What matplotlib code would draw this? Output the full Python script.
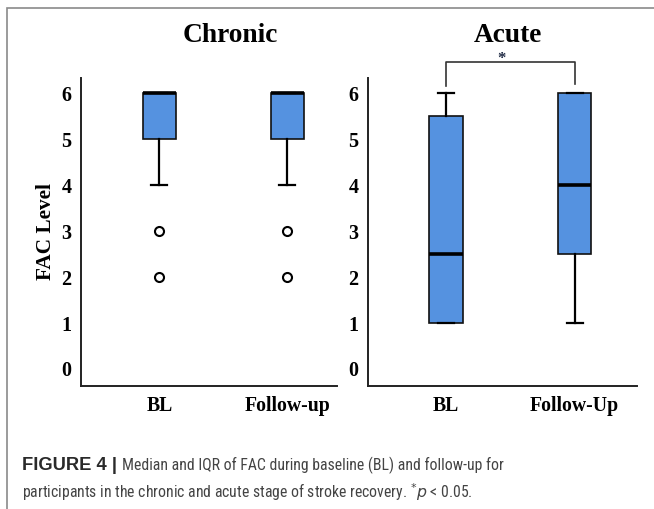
import matplotlib
matplotlib.use("Agg")
import matplotlib.pyplot as plt
from matplotlib.patches import Rectangle
from matplotlib import font_manager
from matplotlib.font_manager import FontProperties

# ---- data ----
groups = ["Chronic", "Acute"]
tick_labels = [["BL", "Follow-up"], ["BL", "Follow-Up"]]
q1 = [[5, 5], [1, 2.5]]
med = [[6, 6], [2.5, 4]]
q3 = [[6, 6], [5.5, 6]]
whislo = [[4, 4], [1, 1]]
whishi = [[6, 6], [6, 6]]
fliers = [[[3, 2], [3, 2]], [[], []]]
yticks = [0, 1, 2, 3, 4, 5, 6]

W, H = 654, 509
fig = plt.figure(figsize=(W / 100, H / 100), dpi=100)

serif = "Liberation Serif"
box_color = "#5592e0"

axes_px = [(81, 337, 0.387, 2.387), (368, 637, 0.393, 2.486)]
top_px, bot_px = 78, 386

for gi, (x0, x1, xa, xb) in enumerate(axes_px):
    ax = fig.add_axes([x0 / W, 1 - bot_px / H, (x1 - x0) / W, (bot_px - top_px) / H])
    stats = []
    for k in range(2):
        stats.append(dict(q1=q1[gi][k], med=med[gi][k], q3=q3[gi][k],
                          whislo=whislo[gi][k], whishi=whishi[gi][k],
                          fliers=fliers[gi][k], label=tick_labels[gi][k]))
    ax.bxp(stats, positions=[1, 2], widths=0.26, capwidths=0.125,
           patch_artist=True, showfliers=True,
           boxprops=dict(facecolor=box_color, edgecolor="#111111", linewidth=1.2),
           medianprops=dict(color="black", linewidth=2.6),
           whiskerprops=dict(color="black", linewidth=1.6),
           capprops=dict(color="black", linewidth=1.6),
           flierprops=dict(marker="o", markerfacecolor="white", markeredgecolor="black",
                           markersize=6.5, markeredgewidth=1.5))
    ax.set_xlim(xa, xb)
    ax.set_ylim(-0.37, 6.33)
    ax.set_yticks(yticks)
    ax.set_yticklabels([str(t) for t in yticks], fontfamily=serif, fontweight="bold", fontsize=14.5)
    ax.set_xticks([1, 2])
    ax.set_xticklabels(tick_labels[gi], fontfamily=serif, fontweight="bold", fontsize=14.2)
    ax.tick_params(axis="both", length=0)
    ax.tick_params(axis="y", pad=7)
    ax.tick_params(axis="x", pad=7)
    for s in ["top", "right"]:
        ax.spines[s].set_visible(False)
    for s in ["left", "bottom"]:
        ax.spines[s].set_linewidth(1.4)
        ax.spines[s].set_color("#222222")
    ax.set_facecolor("none")
    if gi == 0:
        ax.set_ylabel("FAC Level", fontfamily=serif, fontweight="bold", fontsize=15.3, labelpad=4)
    else:
        ytop = 6 + (93 - 62) / 46
        ax.plot([1, 1, 2, 2], [6 + (93 - 86) / 46, ytop, ytop, 6 + (93 - 84) / 46],
                color="#333333", linewidth=1.2, clip_on=False)
        ax.text(1.43, 6 + (93 - 63) / 46, "*", ha="center", va="baseline",
                fontfamily=serif, fontweight="bold", fontsize=12, color="#1f2a44")

# titles
fig.text(230 / W, 1 - 35 / H, groups[0], ha="center", va="center",
         fontfamily=serif, fontweight="bold", fontsize=19.7)
fig.text(508 / W, 1 - 35 / H, groups[1], ha="center", va="center",
         fontfamily=serif, fontweight="bold", fontsize=19.7)

# frame
fig.patches.append(Rectangle((7 / W, -0.1), 1.2, 1 - 8 / H + 0.1, transform=fig.transFigure,
                             fill=False, edgecolor="#8a8a8a", linewidth=1.2))


# ---- caption font: look for an installed narrow / condensed sans face ----
def pick_condensed():
    prefs = ["Liberation Sans Narrow", "Roboto Condensed", "Noto Sans", "DejaVu Sans",
             "Open Sans", "Lato", "Inter", "Roboto", "Liberation Sans"]
    cands = []
    for f in font_manager.fontManager.ttflist:
        name = f.name
        narrow = ("Narrow" in name or "Condensed" in name or "Cond" in name
                  or str(f.stretch) in ("condensed", "semi-condensed", "extra-condensed", "ultra-condensed")
                  or (isinstance(f.stretch, int) and f.stretch < 500)
                  or "Condensed" in f.fname or "Narrow" in f.fname)
        if not narrow or f.style != "normal":
            continue
        w = f.weight if isinstance(f.weight, int) else {"normal": 400, "regular": 400, "book": 400}.get(str(f.weight), 700)
        if w != 400:
            continue
        if "Mono" in name or "Serif" in name or "CJK" in name:
            continue
        rank = len(prefs)
        for i, p in enumerate(prefs):
            if name.startswith(p):
                rank = i
                break
        cands.append((rank, f.fname))
    if cands:
        cands.sort()
        return FontProperties(fname=cands[0][1])
    return FontProperties(family="Roboto")


cap_fp = pick_condensed()

line1_bold = "FIGURE 4 |"
line1 = "Median and IQR of FAC during baseline (BL) and follow-up for"
line2 = "participants in the chronic and acute stage of stroke recovery. $^{*}\\mathit{p}$ < 0.05."


def fit(text_obj, x_left, x_right, extra=1.0):
    fig.canvas.draw()
    bb = text_obj.get_window_extent()
    text_obj.set_fontsize(text_obj.get_fontsize() * extra * (x_right - x_left) / bb.width)


tb = fig.text(22 / W, 1 - 470 / H, line1_bold, ha="left", va="baseline",
              fontfamily="Liberation Sans", fontweight="bold", fontsize=12.5, color="#2a2a2a")
fit(tb, 22, 117)
fp1 = cap_fp.copy()
fp1.set_size(12)
t1 = fig.text(122 / W, 1 - 470 / H, line1, ha="left", va="baseline",
              fontproperties=fp1, color="#444444")
fit(t1, 122, 482, extra=1.06)
fp2 = cap_fp.copy()
fp2.set_size(t1.get_fontsize())
fig.text(22 / W, 1 - 498 / H, line2, ha="left", va="baseline",
         fontproperties=fp2, color="#444444")

fig.savefig("out.png", dpi=100)
